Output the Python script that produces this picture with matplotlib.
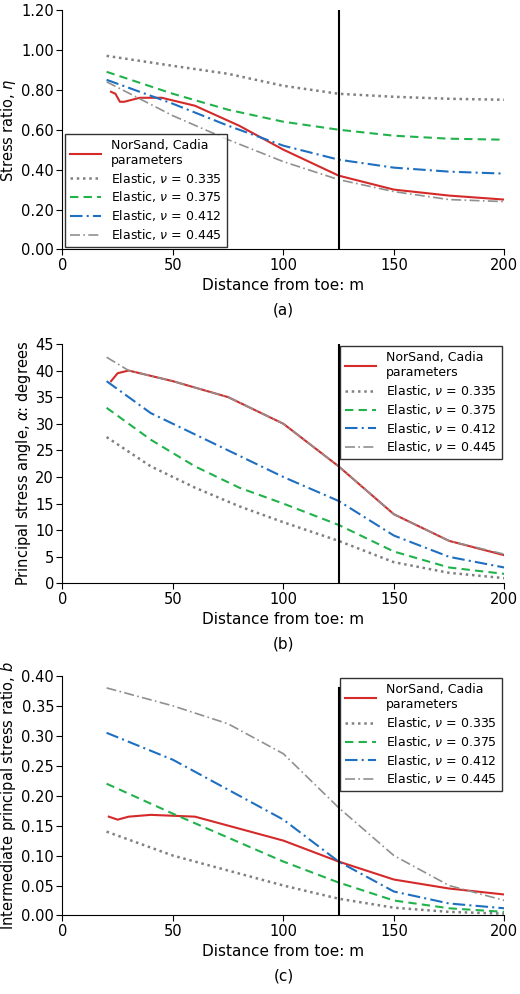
import matplotlib
matplotlib.use("Agg")
import matplotlib.pyplot as plt
import numpy as np
from matplotlib.ticker import FormatStrFormatter

plt.rcParams['font.family'] = ['DejaVu Sans']
plt.rcParams['mathtext.fontset'] = 'dejavusans'

# Panel (a)
xa_el = [20, 50, 75, 100, 125, 150, 175, 200]
a_335 = [0.97, 0.92, 0.88, 0.82, 0.78, 0.765, 0.755, 0.75]
a_375 = [0.89, 0.78, 0.70, 0.64, 0.60, 0.57, 0.555, 0.55]
a_412 = [0.85, 0.73, 0.62, 0.52, 0.45, 0.41, 0.39, 0.38]
a_445 = [0.84, 0.67, 0.55, 0.44, 0.35, 0.29, 0.25, 0.24]
xa_ns = [22, 24, 26, 28, 35, 45, 60, 80, 100, 125, 150, 175, 200]
a_ns = [0.79, 0.78, 0.74, 0.74, 0.76, 0.76, 0.72, 0.62, 0.50, 0.37, 0.30, 0.27, 0.25]

# Panel (b)
xb_el = [20, 40, 60, 80, 100, 125, 150, 175, 200]
b_335 = [27.5, 22, 18, 14.5, 11.5, 8, 4, 2, 1]
b_375 = [33, 27, 22, 18, 15, 11, 6, 3, 1.8]
b_412 = [38, 32, 28, 24, 20, 15.5, 9, 5, 3]
xb_445 = [20, 30, 50, 75, 100, 125, 150, 175, 200]
b_445 = [42.5, 40, 38, 35, 30, 22, 13, 8, 5.5]
xb_ns = [22, 25, 30, 50, 75, 100, 125, 150, 175, 200]
b_ns = [38, 39.5, 40, 38, 35, 30, 22, 13, 8, 5.3]

# Panel (c)
xc_el = [20, 50, 75, 100, 125, 150, 175, 200]
c_335 = [0.14, 0.10, 0.075, 0.05, 0.028, 0.013, 0.006, 0.003]
c_375 = [0.22, 0.17, 0.13, 0.09, 0.055, 0.025, 0.012, 0.006]
c_412 = [0.305, 0.26, 0.21, 0.16, 0.09, 0.04, 0.02, 0.012]
c_445 = [0.38, 0.35, 0.32, 0.27, 0.18, 0.10, 0.05, 0.025]
xc_ns = [21, 25, 30, 40, 60, 80, 100, 125, 150, 175, 200]
c_ns = [0.165, 0.16, 0.165, 0.168, 0.165, 0.145, 0.125, 0.09, 0.06, 0.045, 0.035]

labels = ["NorSand, Cadia\nparameters", r"Elastic, $\nu$ = 0.335", r"Elastic, $\nu$ = 0.375",
          r"Elastic, $\nu$ = 0.412", r"Elastic, $\nu$ = 0.445"]
styles = [dict(color='#d42a2a', ls='-', lw=1.5),
          dict(color='#808080', ls=(0, (1, 1.5)), lw=1.8),
          dict(color='#22b24c', ls=(0, (4, 2.5)), lw=1.5),
          dict(color='#1f6fc0', ls=(0, (6, 2, 1, 2)), lw=1.5),
          dict(color='#909090', ls=(0, (6, 2, 1, 2)), lw=1.2)]

fig = plt.figure(figsize=(5.2, 9.94), dpi=100)
axa = fig.add_axes([0.12, 0.749, 0.85, 0.241])
axb = fig.add_axes([0.12, 0.413, 0.85, 0.241])
axc = fig.add_axes([0.12, 0.079, 0.85, 0.241])

panels = [
    (axa, [(xa_ns, a_ns), (xa_el, a_335), (xa_el, a_375), (xa_el, a_412), (xa_el, a_445)],
     (0, 1.2), 0.2, '%.2f', r"Stress ratio, $\eta$", '(a)', 'lower left', (0, 1)),
    (axb, [(xb_ns, b_ns), (xb_el, b_335), (xb_el, b_375), (xb_el, b_412), (xb_445, b_445)],
     (0, 45), 5, '%d', r"Principal stress angle, $\alpha$: degrees", '(b)', 'upper right', (0, 1)),
    (axc, [(xc_ns, c_ns), (xc_el, c_335), (xc_el, c_375), (xc_el, c_412), (xc_el, c_445)],
     (0, 0.4), 0.05, '%.2f', r"Intermediate principal stress ratio, $b$", '(c)', 'upper right', (0, 0.95)),
]
for ax, series, ylim, step, fmt, ylab, tag, loc, vspan in panels:
    for (x, y), st, lab in zip(series, styles, labels):
        ax.plot(x, y, label=lab, **st)
    ax.axvline(125, ymin=vspan[0], ymax=vspan[1], color='black', lw=1.5)
    ax.set_xlim(0, 200)
    ax.set_ylim(*ylim)
    ax.set_xticks(np.arange(0, 201, 50))
    ax.set_yticks(np.arange(ylim[0], ylim[1] + step / 2, step))
    ax.yaxis.set_major_formatter(FormatStrFormatter(fmt))
    ax.spines['top'].set_visible(False)
    ax.spines['right'].set_visible(False)
    ax.tick_params(labelsize=10.5, direction='out', length=4, pad=2)
    ax.set_xlabel("Distance from toe: m", fontsize=11)
    ax.set_ylabel(ylab, fontsize=10.5, labelpad=2)
    ax.text(0.5, -0.27, tag, transform=ax.transAxes, ha='center', fontsize=11)
    leg = ax.legend(loc=loc, fontsize=9, frameon=True, fancybox=False, handlelength=2.5,
                    borderaxespad=0.2, labelspacing=0.3)
    leg.get_frame().set_edgecolor('black')
    leg.get_frame().set_linewidth(1.0)

fig.savefig("out.png", dpi=100)
